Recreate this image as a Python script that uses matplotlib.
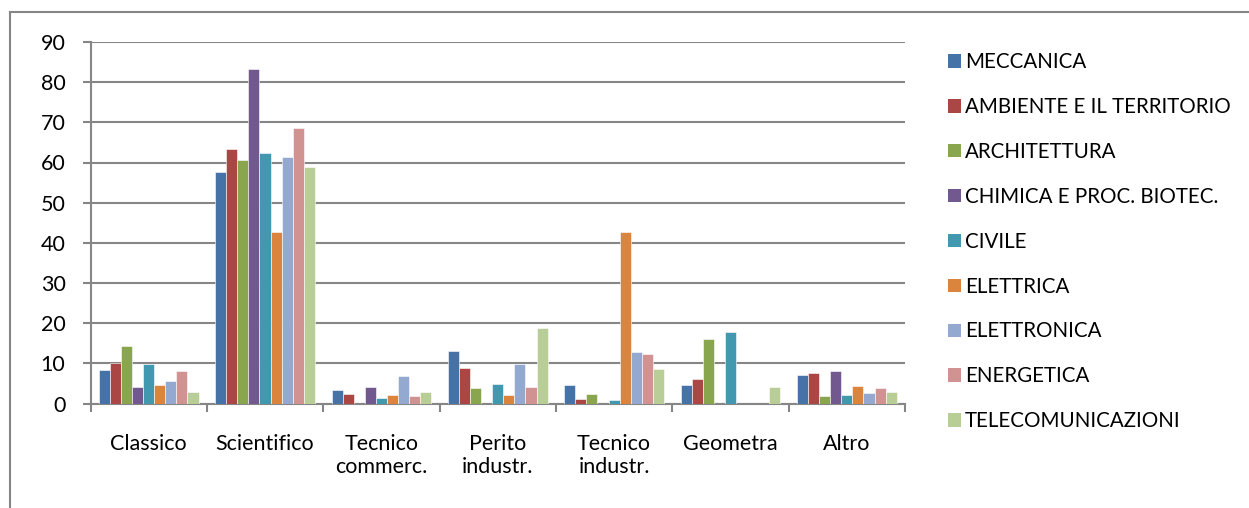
import matplotlib
matplotlib.use("Agg")
import matplotlib.pyplot as plt
import numpy as np
from matplotlib.patches import Patch
from matplotlib.lines import Line2D

categories = ["Classico", "Scientifico", "Tecnico\ncommerc.", "Perito\nindustr.",
              "Tecnico\nindustr.", "Geometra", "Altro"]
series_names = ["MECCANICA", "AMBIENTE E IL TERRITORIO", "ARCHITETTURA",
                "CHIMICA E PROC. BIOTEC.", "CIVILE", "ELETTRICA", "ELETTRONICA",
                "ENERGETICA", "TELECOMUNICAZIONI"]
meccanica = [8.3, 57.7, 3.3, 13.1, 4.6, 4.6, 7.1]
ambiente = [10.0, 63.3, 2.3, 8.8, 1.0, 6.1, 7.5]
architettura = [14.4, 60.5, 0.0, 3.8, 2.3, 16.1, 1.8]
chimica = [4.0, 83.2, 4.0, 0.0, 0.0, 0.0, 8.1]
civile = [9.8, 62.3, 1.3, 4.8, 0.8, 17.7, 2.2]
elettrica = [4.6, 42.8, 2.2, 2.2, 42.7, 0.0, 4.4]
elettronica = [5.6, 61.3, 6.8, 9.9, 12.7, 0.0, 2.7]
energetica = [8.1, 68.7, 1.8, 4.0, 12.3, 0.0, 3.9]
telecomunicazioni = [2.8, 58.8, 2.8, 18.9, 8.6, 4.2, 2.8]
yticks = [0, 10, 20, 30, 40, 50, 60, 70, 80, 90]

series = [meccanica, ambiente, architettura, chimica, civile, elettrica,
          elettronica, energetica, telecomunicazioni]
colors = ["#4572A7", "#AA4643", "#89A54E", "#71588F", "#4198AF", "#DB843D",
          "#93A9CF", "#D19392", "#B9CD96"]

FONT = "Lato"
plt.rcParams['font.family'] = [FONT, 'DejaVu Sans']

W, H = 1249, 508
fig = plt.figure(figsize=(W / 100, H / 100), dpi=100)
ax = fig.add_axes([90.5 / W, 1 - 403.5 / H, (905 - 90.5) / W, (403.5 - 42) / H])

n = len(series)
bw = 1 / 10.5
x = np.arange(len(categories))
for i, (vals, c) in enumerate(zip(series, colors)):
    ax.bar(x + (i - (n - 1) / 2) * bw, vals, width=bw, color=c,
           edgecolor="#ffffff", linewidth=0.4, label=series_names[i], zorder=3)

grid_c = "#868686"
ax.set_xlim(-0.5, len(categories) - 0.5)
ax.set_ylim(0, 90)
ax.set_yticks(yticks)
ax.set_yticklabels([str(v) for v in yticks])
ax.yaxis.grid(True, color=grid_c, linewidth=1.5, zorder=0)
ax.set_axisbelow(True)
for s in ["top", "right"]:
    ax.spines[s].set_visible(False)
for s in ["left", "bottom"]:
    ax.spines[s].set_color(grid_c)
    ax.spines[s].set_linewidth(1.5)

ax.set_xticks(np.arange(-0.5, len(categories), 1.0))
ax.set_xticklabels([])
ax.set_xticks(x, minor=True)
ax.set_xticklabels(categories, minor=True)
ax.tick_params(axis="x", which="major", length=6, width=1.5, color=grid_c, direction="out")
ax.tick_params(axis="x", which="minor", length=0, pad=22, labelsize=15.5)
ax.tick_params(axis="y", length=6, width=1.5, color=grid_c, pad=12, labelsize=15.5)

handles = [Patch(facecolor=c, edgecolor="none") for c in colors]
leg = fig.legend(handles, series_names, loc="upper left",
                 bbox_to_anchor=(940 / W, 1 - 44 / H), frameon=False,
                 fontsize=14.8, handlelength=0.62, handleheight=0.62,
                 handletextpad=0.2, labelspacing=1.21, borderaxespad=0)

# outer chart border (left and top)
fig.add_artist(Line2D([10 / W, 10 / W], [0, 1 - 12 / H], color=grid_c, linewidth=1.5))
fig.add_artist(Line2D([10 / W, 1], [1 - 12 / H, 1 - 12 / H], color=grid_c, linewidth=1.5))

fig.savefig("out.png", dpi=100)
